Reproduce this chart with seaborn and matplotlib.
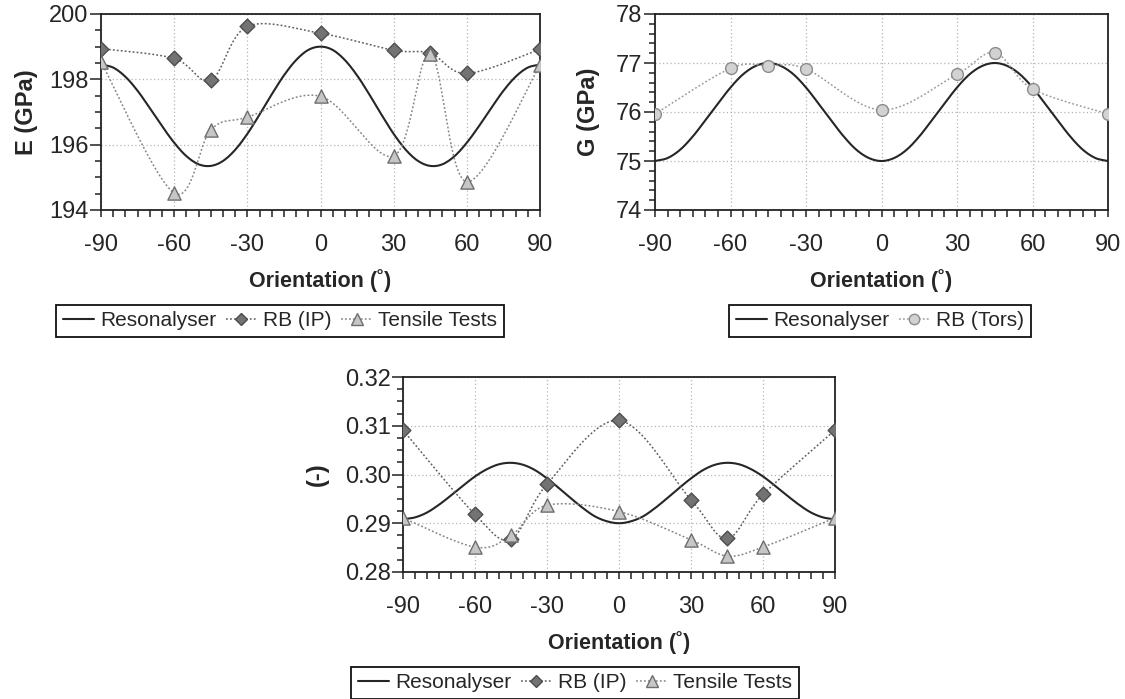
import numpy as np
import pandas as pd
import matplotlib
matplotlib.use("Agg")
import matplotlib.pyplot as plt
from matplotlib.lines import Line2D
from matplotlib.ticker import MultipleLocator, FormatStrFormatter
import seaborn as sns

# ---------------- data ----------------
orient = [-90, -60, -45, -30, 0, 30, 45, 60, 90]

# Chart 1: E (GPa)
E_rb_ip = [198.94, 198.64, 197.97, 199.62, 199.41, 198.89, 198.80, 198.18, 198.92]
E_tensile = [198.54, 194.52, 196.45, 196.84, 197.48, 195.65, 198.79, 194.86, 198.43]

# Chart 2: G (GPa)
G_rb_tors = [75.96, 76.89, 76.94, 76.88, 76.04, 76.77, 77.21, 76.47, 75.96]

# Chart 3: Poisson ratio (-)
nu_rb_ip = [0.3091, 0.2918, 0.2868, 0.2980, 0.3111, 0.2948, 0.2869, 0.2959, 0.3091]
nu_tensile = [0.2911, 0.2851, 0.2875, 0.2937, 0.2924, 0.2866, 0.2833, 0.2851, 0.2911]

# Resonalyser curves read every 5 degrees
reso_orient = list(range(-90, 95, 5))
E_reso_half = [199.00, 198.90, 198.59, 198.12, 197.54, 196.92, 196.33, 195.84, 195.50,
               195.35, 195.40, 195.65, 196.06, 196.57, 197.12, 197.65, 198.08, 198.36, 198.45]
G_reso_half = [75.00, 75.06, 75.23, 75.50, 75.83, 76.17, 76.50, 76.77, 76.94,
               77.00, 76.94, 76.77, 76.50, 76.17, 75.83, 75.50, 75.23, 75.06, 75.00]
nu_reso_half = [0.2900, 0.2904, 0.2914, 0.2931, 0.2951, 0.2972, 0.2992, 0.3009, 0.3020,
                0.3024, 0.3021, 0.3011, 0.2996, 0.2977, 0.2957, 0.2938, 0.2922, 0.2912, 0.2908]
E_reso = E_reso_half[::-1] + E_reso_half[1:]
G_reso = G_reso_half[::-1] + G_reso_half[1:]
nu_reso = nu_reso_half[::-1] + nu_reso_half[1:]

x_ticks = [-90, -60, -30, 0, 30, 60, 90]

# ---------------- style ----------------
sns.set_theme(style="white")
plt.rcParams['font.family'] = ['Liberation Sans', 'DejaVu Sans']
plt.rcParams['axes.unicode_minus'] = False

C_RESO = "#262626"
C_IP_FACE, C_IP_EDGE, C_IP_LINE = "#737373", "#4d4d4d", "#5e5e5e"
C_TT_FACE, C_TT_EDGE, C_TT_LINE = "#c6c6c6", "#6e6e6e", "#858585"
C_TO_FACE, C_TO_EDGE, C_TO_LINE = "#d2d2d2", "#8c8c8c", "#9c9c9c"

TICK_FS = 17
XLAB_FS = 15.5
YLAB_FS = 17
LEG_FS = 15


def smooth(x, y, n=24):
    """Catmull-Rom path through the points (smoothed-line rendering style)."""
    p = np.column_stack([np.asarray(x, float), np.asarray(y, float)])
    p = np.vstack([p[0], p, p[-1]])
    out = []
    t = np.linspace(0, 1, n)[:, None]
    for i in range(1, len(p) - 2):
        p0, p1, p2, p3 = p[i - 1], p[i], p[i + 1], p[i + 2]
        seg = 0.5 * (2 * p1 + (-p0 + p2) * t + (2 * p0 - 5 * p1 + 4 * p2 - p3) * t ** 2
                     + (-p0 + 3 * p1 - 3 * p2 + p3) * t ** 3)
        out.append(seg if i == 1 else seg[1:])
    s = np.vstack(out)
    return s[:, 0], s[:, 1]


W, H = 1125, 699
fig = plt.figure(figsize=(W / 100, H / 100), dpi=100)
fig.patch.set_facecolor("white")


def make_ax(l, r, t, b):
    return fig.add_axes([l / W, 1 - b / H, (r - l) / W, (b - t) / H])


def style_ax(ax, ylim, ymaj, ymin, fmt, ylabel, ylab_x, xlab_y):
    ax.set_xlim(-90, 90)
    ax.set_ylim(*ylim)
    ax.xaxis.set_major_locator(MultipleLocator(30))
    ax.xaxis.set_minor_locator(MultipleLocator(5))
    ax.yaxis.set_major_locator(MultipleLocator(ymaj))
    ax.yaxis.set_minor_locator(MultipleLocator(ymin))
    ax.yaxis.set_major_formatter(FormatStrFormatter(fmt))
    ax.set_xticks(x_ticks)
    ax.set_xticklabels([str(v) for v in x_ticks])
    ax.tick_params(axis="x", which="both", direction="out", bottom=True, top=False,
                   length=5, width=1.1, color="#222222", labelsize=TICK_FS, pad=12)
    ax.tick_params(axis="y", which="major", direction="out", left=True, right=False,
                   length=8, width=1.1, color="#222222", labelsize=TICK_FS, pad=1)
    ax.tick_params(axis="y", which="minor", direction="out", left=True, right=False,
                   length=4, width=1.1, color="#222222")
    for sp in ax.spines.values():
        sp.set_visible(True)
        sp.set_color("#222222")
        sp.set_linewidth(1.3)
    ax.grid(True, which="major", linestyle=(0, (1, 2)), color="#b5b5b5", linewidth=0.9)
    ax.set_axisbelow(True)
    ax.set_facecolor("white")
    ax.set_xlabel("Orientation (˚)", fontsize=XLAB_FS, fontweight="bold", va="center")
    ax.xaxis.set_label_coords(0.5, xlab_y)
    ax.set_ylabel(ylabel, fontsize=YLAB_FS, fontweight="bold", va="center", rotation=90)
    ax.yaxis.set_label_coords(ylab_x, 0.5)


def draw_reso(ax, y):
    sx, sy = smooth(reso_orient, y, n=8)
    sns.lineplot(x=sx, y=sy, ax=ax, color=C_RESO, linewidth=1.5, sort=False,
                 estimator=None, zorder=3)


def draw_series(ax, y, marker, face, edge, lcolor, size):
    sx, sy = smooth(orient, y)
    sns.lineplot(x=sx, y=sy, ax=ax, color=lcolor, linewidth=1.1, sort=False,
                 estimator=None, linestyle=(0, (1.2, 1.4)), zorder=4)
    sns.scatterplot(x=orient, y=y, ax=ax, marker=marker, s=size ** 2, color=face,
                    edgecolor=edge, linewidth=1.0, zorder=5, legend=False)


def handle(marker, face, edge, lcolor, size, solid=False):
    if solid:
        return Line2D([], [], color=C_RESO, linewidth=1.5)
    return Line2D([], [], color=lcolor, linewidth=1.1, linestyle=(0, (1.2, 1.4)),
                  marker=marker, markersize=size, markerfacecolor=face,
                  markeredgecolor=edge, markeredgewidth=1.0)


def legend(ax, handles, labels, cx, cy):
    lg = ax.legend(handles, labels, loc="center", bbox_to_anchor=(cx / W, 1 - cy / H),
                   bbox_transform=fig.transFigure, ncol=len(labels), frameon=True,
                   fancybox=False, shadow=False, fontsize=LEG_FS, handlelength=1.5,
                   handletextpad=0.3, columnspacing=0.45, borderpad=0.32,
                   borderaxespad=0, edgecolor="#111111", framealpha=1)
    lg.get_frame().set_linewidth(1.3)


# ---------------- chart 1 : E ----------------
ax1 = make_ax(101, 540, 14, 210)
draw_reso(ax1, E_reso)
draw_series(ax1, E_rb_ip, "D", C_IP_FACE, C_IP_EDGE, C_IP_LINE, 7.5)
draw_series(ax1, E_tensile, "^", C_TT_FACE, C_TT_EDGE, C_TT_LINE, 9.5)
style_ax(ax1, (194, 200), 2, 0.5, "%d", "E (GPa)", (27 - 101) / 439, (210 - 281) / 196)
legend(ax1,
       [handle(None, None, None, None, 0, solid=True),
        handle("D", C_IP_FACE, C_IP_EDGE, C_IP_LINE, 6),
        handle("^", C_TT_FACE, C_TT_EDGE, C_TT_LINE, 8)],
       ["Resonalyser", "RB (IP)", "Tensile Tests"], 280, 321)

# ---------------- chart 2 : G ----------------
ax2 = make_ax(655, 1108, 14, 210)
draw_reso(ax2, G_reso)
draw_series(ax2, G_rb_tors, "o", C_TO_FACE, C_TO_EDGE, C_TO_LINE, 8.5)
style_ax(ax2, (74, 78), 1, 0.2, "%d", "G (GPa)", (589 - 655) / 453, (210 - 281) / 196)
legend(ax2,
       [handle(None, None, None, None, 0, solid=True),
        handle("o", C_TO_FACE, C_TO_EDGE, C_TO_LINE, 7.5)],
       ["Resonalyser", "RB (Tors)"], 880, 321)

# ---------------- chart 3 : nu ----------------
ax3 = make_ax(403, 835, 377, 572)
draw_reso(ax3, nu_reso)
draw_series(ax3, nu_rb_ip, "D", C_IP_FACE, C_IP_EDGE, C_IP_LINE, 7.5)
draw_series(ax3, nu_tensile, "^", C_TT_FACE, C_TT_EDGE, C_TT_LINE, 9.5)
style_ax(ax3, (0.28, 0.32), 0.01, 0.0025, "%.2f", "(-)", (317 - 403) / 432, (572 - 643) / 195)
legend(ax3,
       [handle(None, None, None, None, 0, solid=True),
        handle("D", C_IP_FACE, C_IP_EDGE, C_IP_LINE, 6),
        handle("^", C_TT_FACE, C_TT_EDGE, C_TT_LINE, 8)],
       ["Resonalyser", "RB (IP)", "Tensile Tests"], 575, 683)

fig.savefig("out.png", dpi=100, facecolor="white")
